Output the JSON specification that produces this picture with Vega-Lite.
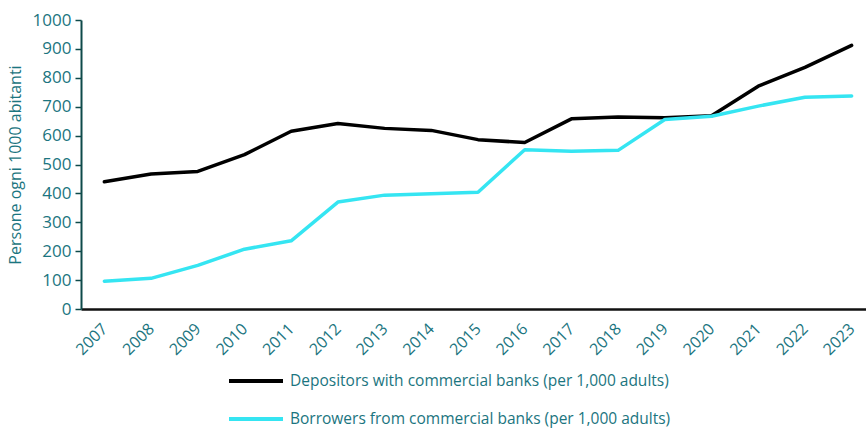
{
  "$schema": "https://vega.github.io/schema/vega-lite/v6.json",
  "autosize": "none",
  "width": 794,
  "height": 289,
  "padding": {"left": 81, "top": 20, "right": 0, "bottom": 119},
  "background": "white",
  "config": {
    "view": {"stroke": null},
    "font": "Open Sans"
  },
  "data": {
    "values": [
      {"year": "2007", "series": "Depositors with commercial banks (per 1,000 adults)", "value": 440},
      {"year": "2008", "series": "Depositors with commercial banks (per 1,000 adults)", "value": 467},
      {"year": "2009", "series": "Depositors with commercial banks (per 1,000 adults)", "value": 476},
      {"year": "2010", "series": "Depositors with commercial banks (per 1,000 adults)", "value": 534},
      {"year": "2011", "series": "Depositors with commercial banks (per 1,000 adults)", "value": 615},
      {"year": "2012", "series": "Depositors with commercial banks (per 1,000 adults)", "value": 642},
      {"year": "2013", "series": "Depositors with commercial banks (per 1,000 adults)", "value": 625},
      {"year": "2014", "series": "Depositors with commercial banks (per 1,000 adults)", "value": 618},
      {"year": "2015", "series": "Depositors with commercial banks (per 1,000 adults)", "value": 586},
      {"year": "2016", "series": "Depositors with commercial banks (per 1,000 adults)", "value": 576},
      {"year": "2017", "series": "Depositors with commercial banks (per 1,000 adults)", "value": 658},
      {"year": "2018", "series": "Depositors with commercial banks (per 1,000 adults)", "value": 664},
      {"year": "2019", "series": "Depositors with commercial banks (per 1,000 adults)", "value": 662},
      {"year": "2020", "series": "Depositors with commercial banks (per 1,000 adults)", "value": 669},
      {"year": "2021", "series": "Depositors with commercial banks (per 1,000 adults)", "value": 771},
      {"year": "2022", "series": "Depositors with commercial banks (per 1,000 adults)", "value": 836},
      {"year": "2023", "series": "Depositors with commercial banks (per 1,000 adults)", "value": 912},
      {"year": "2007", "series": "Borrowers from commercial banks (per 1,000 adults)", "value": 96},
      {"year": "2008", "series": "Borrowers from commercial banks (per 1,000 adults)", "value": 106},
      {"year": "2009", "series": "Borrowers from commercial banks (per 1,000 adults)", "value": 151},
      {"year": "2010", "series": "Borrowers from commercial banks (per 1,000 adults)", "value": 207},
      {"year": "2011", "series": "Borrowers from commercial banks (per 1,000 adults)", "value": 236},
      {"year": "2012", "series": "Borrowers from commercial banks (per 1,000 adults)", "value": 370},
      {"year": "2013", "series": "Borrowers from commercial banks (per 1,000 adults)", "value": 394},
      {"year": "2014", "series": "Borrowers from commercial banks (per 1,000 adults)", "value": 399},
      {"year": "2015", "series": "Borrowers from commercial banks (per 1,000 adults)", "value": 404},
      {"year": "2016", "series": "Borrowers from commercial banks (per 1,000 adults)", "value": 551},
      {"year": "2017", "series": "Borrowers from commercial banks (per 1,000 adults)", "value": 546},
      {"year": "2018", "series": "Borrowers from commercial banks (per 1,000 adults)", "value": 549},
      {"year": "2019", "series": "Borrowers from commercial banks (per 1,000 adults)", "value": 656},
      {"year": "2020", "series": "Borrowers from commercial banks (per 1,000 adults)", "value": 667},
      {"year": "2021", "series": "Borrowers from commercial banks (per 1,000 adults)", "value": 702},
      {"year": "2022", "series": "Borrowers from commercial banks (per 1,000 adults)", "value": 733},
      {"year": "2023", "series": "Borrowers from commercial banks (per 1,000 adults)", "value": 737}
    ]
  },
  "mark": {"type": "line", "strokeWidth": 3.5, "strokeCap": "round", "strokeJoin": "round"},
  "encoding": {
    "x": {
      "field": "year",
      "type": "ordinal",
      "scale": {"type": "point", "padding": 0.5},
      "axis": {
        "title": null,
        "labelAngle": -45,
        "labelAlign": "right",
        "labelBaseline": "middle",
        "labelPadding": 17,
        "labelFontSize": 16,
        "labelColor": "#1B7580",
        "labelFont": "Open Sans",
        "ticks": false,
        "domainColor": "#111111",
        "domainWidth": 2.5,
        "grid": false
      }
    },
    "y": {
      "field": "value",
      "type": "quantitative",
      "scale": {"domain": [0, 1000], "nice": false},
      "axis": {
        "title": "Persone ogni 1000 abitanti",
        "titleFontSize": 16,
        "titleFontWeight": "normal",
        "titleColor": "#1B7580",
        "titleFont": "Open Sans",
        "titlePadding": 9,
        "format": "d",
        "values": [0, 100, 200, 300, 400, 500, 600, 700, 800, 900, 1000],
        "labelFontSize": 17,
        "labelColor": "#1B7580",
        "labelFont": "Open Sans",
        "labelPadding": 4,
        "tickSize": 6,
        "tickColor": "#0E4A4A",
        "tickWidth": 1.5,
        "domainColor": "#0E4A4A",
        "domainWidth": 2,
        "grid": false
      }
    },
    "color": {
      "field": "series",
      "type": "nominal",
      "scale": {
        "domain": ["Depositors with commercial banks (per 1,000 adults)", "Borrowers from commercial banks (per 1,000 adults)"],
        "range": ["#000000", "#35E5F2"]
      },
      "legend": {
        "title": null,
        "orient": "none",
        "legendX": 146,
        "legendY": 332,
        "direction": "vertical",
        "symbolType": "stroke",
        "symbolSize": 2916,
        "symbolStrokeWidth": 4,
        "labelFontSize": 15.5,
        "labelColor": "#1B7580",
        "labelFont": "Open Sans",
        "labelLimit": 600,
        "rowPadding": -19,
        "labelOffset": 5
      }
    }
  }
}
